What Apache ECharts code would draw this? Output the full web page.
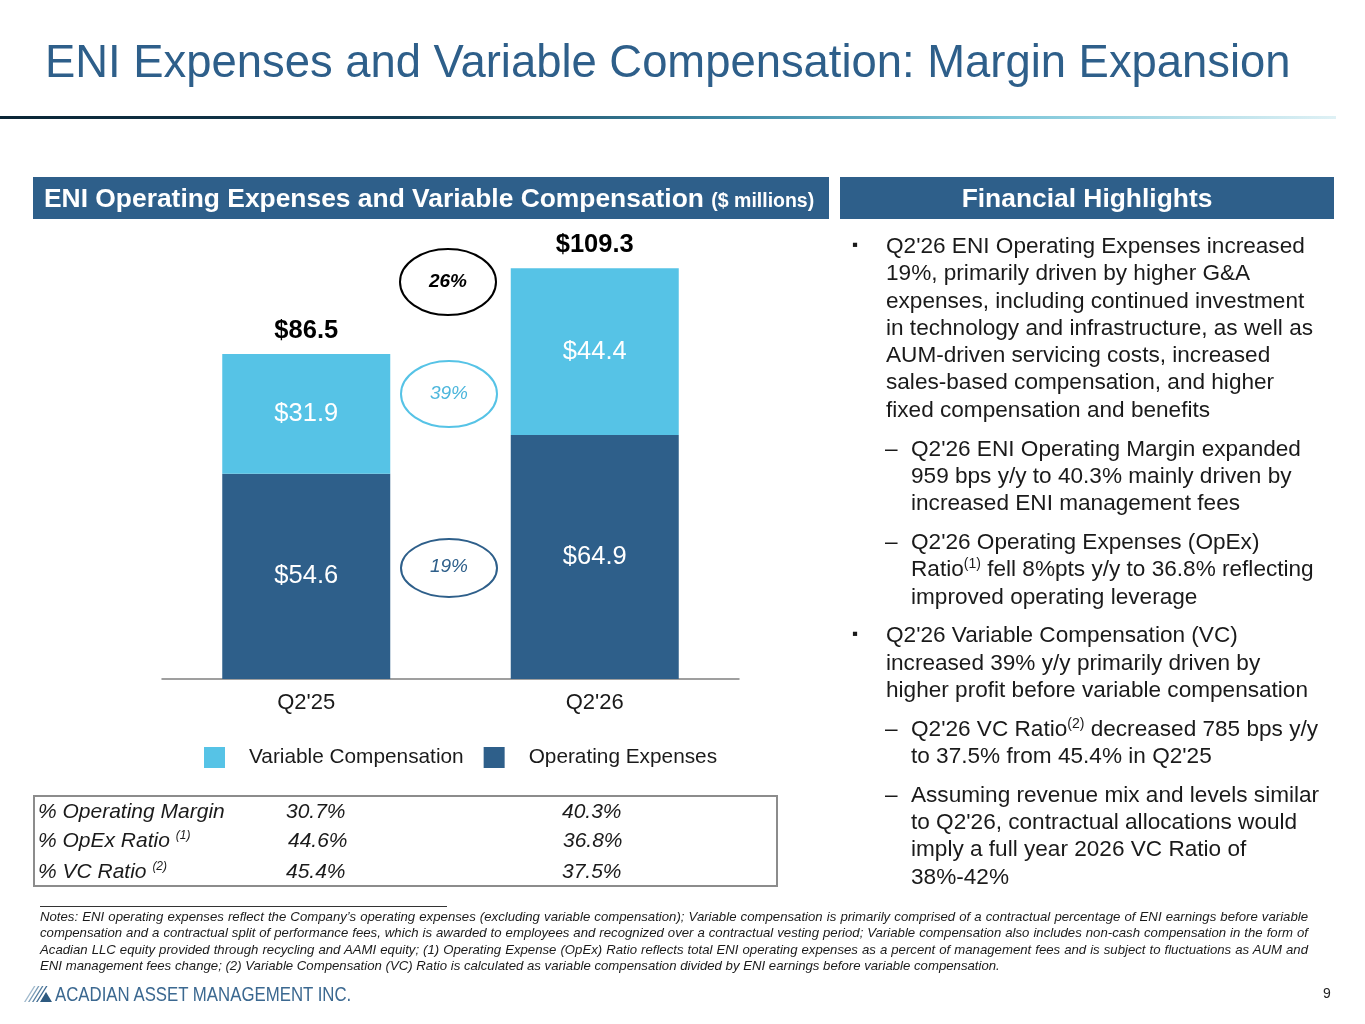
<!DOCTYPE html>
<html>
<head>
<meta charset="utf-8">
<script src="https://cdn.jsdelivr.net/npm/echarts@6/dist/echarts.min.js"></script>
<style>
  html, body { margin:0; padding:0; background:#fff; }
  body { width:1365px; height:1024px; position:relative; overflow:hidden; font-family:"Liberation Sans", Arial, sans-serif; }
  #chart { position:absolute; left:0; top:0; width:1365px; height:1024px; }
  .abs { position:absolute; }
  #title { left:45px; top:34px; font-size:45.4px; color:#2e5f8a; white-space:nowrap; line-height:56px; }
  #rule { left:0; top:116px; width:1336px; height:3px;
    background:linear-gradient(to right,#0a2535 0%,#143c52 30%,#3f8aa6 55%,#7cc6d9 75%,#dff1f5 100%); }
  .hdr { top:177px; height:42px; background:#2e5f8a; color:#fff; font-weight:bold; font-size:26.4px; line-height:42px; white-space:nowrap; }
  #hdrL { left:33px; width:796px; }
  #hdrL span.t { position:absolute; left:11px; top:0; }
  #hdrR { left:840px; width:494px; text-align:center; }
  .small { font-size:19.5px; }
  #bullets { left:852px; top:232px; width:500px; font-size:22.6px; color:#1a1a1a; line-height:27.3px; }
  .p { position:relative; padding-left:34px; margin-bottom:11.5px; white-space:nowrap; }
  .p .m { position:absolute; left:0; top:-1px; font-size:17px; }
  .s { position:relative; padding-left:59px; margin-bottom:11.5px; white-space:nowrap; }
  .s .m { position:absolute; left:33px; top:0; }
  sup { font-size:14px; line-height:0; vertical-align:0; position:relative; top:-8px; }
  #table { left:33px; top:795px; width:741px; height:88px; border:2px solid #8c8c8c; }
  .row { position:absolute; left:0; font-size:21px; font-style:italic; color:#1a1a1a; white-space:nowrap; }
  .row span { position:absolute; top:0; }
  .row sup { font-size:12px; top:-8px; }
  #noteRule { left:40px; top:906px; width:407px; height:1px; background:#333; }
  #notes { left:40px; top:909px; width:1268px; font-size:13.2px; font-style:italic; color:#1a1a1a; line-height:16.3px; }
  #notes div { white-space:nowrap; text-align:justify; text-align-last:justify; }
  #notes div.last { text-align-last:left; }
  #logo { left:24px; top:982px; height:24px; }
  #logoText { left:55px; top:982px; font-size:20px; color:#3b6890; white-space:nowrap; line-height:24px; transform:scaleX(0.84); transform-origin:left center; }
  #page { left:1323px; top:985px; font-size:14px; color:#222; }
</style>
</head>
<body>
<div id="chart"></div>

<div id="title" class="abs">ENI Expenses and Variable Compensation: Margin Expansion</div>
<div id="rule" class="abs"></div>
<div id="hdrL" class="abs hdr"><span class="t">ENI Operating Expenses and Variable Compensation <span class="small">($ millions)</span></span></div>
<div id="hdrR" class="abs hdr">Financial Highlights</div>

<div id="bullets" class="abs">
  <div class="p"><span class="m">▪</span>Q2'26 ENI Operating Expenses increased<br>19%, primarily driven by higher G&amp;A<br>expenses, including continued investment<br>in technology and infrastructure, as well as<br>AUM-driven servicing costs, increased<br>sales-based compensation, and higher<br>fixed compensation and benefits</div>
  <div class="s"><span class="m">–</span>Q2'26 ENI Operating Margin expanded<br>959 bps y/y to 40.3% mainly driven by<br>increased ENI management fees</div>
  <div class="s"><span class="m">–</span>Q2'26 Operating Expenses (OpEx)<br>Ratio<sup>(1)</sup> fell 8%pts y/y to 36.8% reflecting<br>improved operating leverage</div>
  <div class="p"><span class="m">▪</span>Q2'26 Variable Compensation (VC)<br>increased 39% y/y primarily driven by<br>higher profit before variable compensation</div>
  <div class="s"><span class="m">–</span>Q2'26 VC Ratio<sup>(2)</sup> decreased 785 bps y/y<br>to 37.5% from 45.4% in Q2'25</div>
  <div class="s"><span class="m">–</span>Assuming revenue mix and levels similar<br>to Q2'26, contractual allocations would<br>imply a full year 2026 VC Ratio of<br>38%-42%</div>
</div>

<div id="table" class="abs"></div>

<div id="noteRule" class="abs"></div>
<div id="notes" class="abs">
  <div>Notes: ENI operating expenses reflect the Company’s operating expenses (excluding variable compensation); Variable compensation is primarily comprised of a contractual percentage of ENI earnings before variable</div>
  <div>compensation and a contractual split of performance fees, which is awarded to employees and recognized over a contractual vesting period; Variable compensation also includes non-cash compensation in the form of</div>
  <div>Acadian LLC equity provided through recycling and AAMI equity; (1) Operating Expense (OpEx) Ratio reflects total ENI operating expenses as a percent of management fees and is subject to fluctuations as AUM and</div>
  <div class="last">ENI management fees change; (2) Variable Compensation (VC) Ratio is calculated as variable compensation divided by ENI earnings before variable compensation.</div>
</div>

<svg id="logo" class="abs" width="30" height="24" viewBox="0 0 30 24">
  <polygon points="0,20 10,4 11.5,4 1.5,20" fill="#9fb9cc"/>
  <polygon points="4,20 14,4 15.5,4 5.5,20" fill="#7a9cb6"/>
  <polygon points="8,20 18,4 19.5,4 9.5,20" fill="#567f9f"/>
  <polygon points="12,20 22,4 23.5,4 13.5,20" fill="#3b6890"/>
  <polygon points="16,20 22,10 28,20" fill="#2e5a80"/>
</svg>
<div id="logoText" class="abs">ACADIAN ASSET MANAGEMENT INC.</div>
<div id="page" class="abs">9</div>

<script>
// ---- data ----
const categories = ["Q2'25", "Q2'26"];
const operatingExpenses = [54.6, 64.9];
const variableCompensation = [31.9, 44.4];
const totals = [86.5, 109.3];
const yMax = 120;
const changeLabels = ["26%", "39%", "19%"];   // total, VC, OpEx growth
const tableLabels = ["% Operating Margin", "% OpEx Ratio", "% VC Ratio"];
const tableNotes = ["", "(1)", "(2)"];
const tableQ225 = ["30.7%", "44.6%", "45.4%"];
const tableQ226 = ["40.3%", "36.8%", "37.5%"];

// ---- table ----
const tbl = document.getElementById('table');
const rowTops = [2, 31, 62];
const c1 = [251, 253, 251];
const c2 = [527, 528, 527];
tableLabels.forEach((lab, i) => {
  const r = document.createElement('div');
  r.className = 'row';
  r.style.top = rowTops[i] + 'px';
  r.style.width = '741px';
  r.style.height = '26px';
  r.innerHTML = '<span style="left:3px">' + lab + (tableNotes[i] ? ' <sup>' + tableNotes[i] + '</sup>' : '') + '</span>' +
    '<span style="left:' + c1[i] + 'px">' + tableQ225[i] + '</span>' +
    '<span style="left:' + c2[i] + 'px">' + tableQ226[i] + '</span>';
  tbl.appendChild(r);
});

// ---- chart ----
const LIGHT = '#56c3e6';
const DARK = '#2e5f8a';
const chart = echarts.init(document.getElementById('chart'), null, { renderer: 'canvas' });
const FONT = '"Liberation Sans", Arial, sans-serif';
chart.setOption({
  animation: false,
  grid: { left: 162, top: 228, width: 577, height: 451, containLabel: false },
  xAxis: {
    type: 'category', data: categories,
    axisLine: { lineStyle: { color: '#808080', width: 1.5 } },
    axisTick: { show: false },
    axisLabel: { fontSize: 22, color: '#1a1a1a', fontFamily: FONT, margin: 13 }
  },
  yAxis: { type: 'value', min: 0, max: yMax, show: false, splitLine: { show: false } },
  legend: {
    data: ['Variable Compensation', 'Operating Expenses'],
    left: 204, top: 747, padding: 0, icon: 'rect', itemWidth: 21, itemHeight: 21, itemGap: 20,
    textStyle: { fontSize: 20.8, color: '#1a1a1a', fontFamily: FONT, padding: [0, 0, 0, 19] }
  },
  series: [
    {
      name: 'Operating Expenses', type: 'bar', stack: 'a', data: operatingExpenses, barWidth: 168,
      itemStyle: { color: DARK },
      label: { show: true, position: 'inside', color: '#fff', fontSize: 25.5, fontFamily: FONT,
        formatter: p => '$' + p.value.toFixed(1) }
    },
    {
      name: 'Variable Compensation', type: 'bar', stack: 'a', data: variableCompensation, barWidth: 168,
      itemStyle: { color: LIGHT },
      label: { show: true, position: 'inside', color: '#fff', fontSize: 25.5, fontFamily: FONT,
        formatter: p => '$' + p.value.toFixed(1) }
    },
    {
      name: 'Total', type: 'bar', data: totals, barWidth: 168, barGap: '-100%', z: 1,
      itemStyle: { color: 'none', borderWidth: 0 },
      label: { show: true, position: 'top', distance: 10, color: '#000', fontSize: 25.5, fontWeight: 'bold', fontFamily: FONT,
        formatter: p => '$' + p.value.toFixed(1) },
      emphasis: { disabled: true },
      silent: true
    }
  ],
  graphic: [
    { type: 'ellipse', shape: { cx: 448, cy: 282, rx: 48, ry: 33 }, style: { fill: 'none', stroke: '#000', lineWidth: 2 } },
    { type: 'text', x: 448, y: 282, style: { text: changeLabels[0], fill: '#000', font: 'italic bold 19px ' + FONT, textAlign: 'center', textVerticalAlign: 'middle' } },
    { type: 'ellipse', shape: { cx: 449, cy: 394, rx: 48, ry: 33 }, style: { fill: 'none', stroke: LIGHT, lineWidth: 2 } },
    { type: 'text', x: 449, y: 394, style: { text: changeLabels[1], fill: '#4cb6dc', font: 'italic 19px ' + FONT, textAlign: 'center', textVerticalAlign: 'middle' } },
    { type: 'ellipse', shape: { cx: 449, cy: 568, rx: 48, ry: 29 }, style: { fill: 'none', stroke: DARK, lineWidth: 2 } },
    { type: 'text', x: 449, y: 567, style: { text: changeLabels[2], fill: DARK, font: 'italic 19px ' + FONT, textAlign: 'center', textVerticalAlign: 'middle' } }
  ]
});
</script>
</body>
</html>
